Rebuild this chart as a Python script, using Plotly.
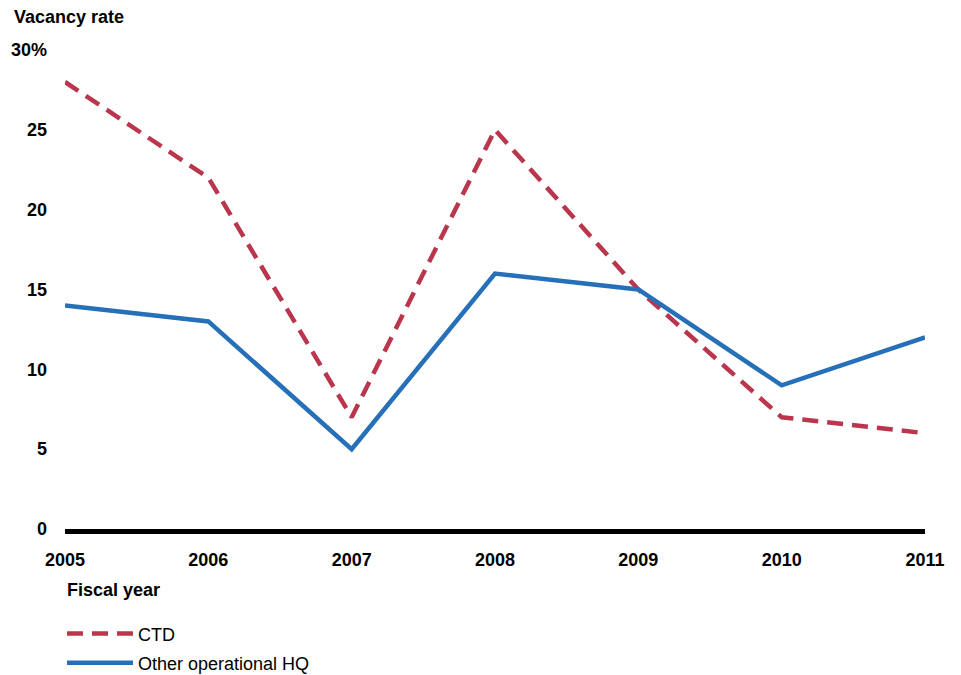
import plotly.graph_objects as go

years = [2005, 2006, 2007, 2008, 2009, 2010, 2011]
ctd = [28, 22, 7, 25, 15, 7, 6]
other_hq = [14, 13, 5, 16, 15, 9, 12]
y_ticks = [0, 5, 10, 15, 20, 25, 30]
y_ticktext = ["0", "5", "10", "15", "20", "25", "30%"]

font = "Liberation Sans, Arial, sans-serif"

fig = go.Figure()
fig.add_trace(go.Scatter(x=years, y=ctd, mode="lines", name="CTD",
                         line=dict(color="#b9364c", width=4.5, dash="16px,9px"),
                         cliponaxis=False, legend="legend"))
fig.add_trace(go.Scatter(x=years, y=other_hq, mode="lines", name="Other operational HQ",
                         line=dict(color="#2570b8", width=4.5),
                         cliponaxis=False, legend="legend2"))

# the page puts the figure 8px in from the top-left corner
leg = dict(x=-0.0035, xanchor="left", yanchor="middle", font=dict(size=18),
           bgcolor="rgba(0,0,0,0)", itemwidth=66)
fig.update_layout(
    width=953, height=667,
    margin=dict(l=57, r=36, t=42, b=146, autoexpand=False),
    plot_bgcolor="white", paper_bgcolor="white",
    font=dict(family=font, size=18, color="black"),
    xaxis=dict(range=[2005, 2011], tickvals=years, showgrid=False, zeroline=False,
               showline=True, linecolor="black", linewidth=5,
               tickfont=dict(size=18, weight="bold"), ticks="", ticklabelstandoff=10),
    yaxis=dict(range=[0, 30], tickvals=y_ticks, ticktext=y_ticktext, showgrid=False,
               zeroline=False, showline=False, ticks="",
               tickfont=dict(size=18, weight="bold"), ticklabelstandoff=17),
    legend=dict(leg, y=-0.219),
    legend2=dict(leg, y=-0.2797),
    showlegend=True,
    annotations=[
        dict(text="<b>Vacancy rate</b>", xref="paper", yref="paper", x=-0.0616, y=1.069,
             xanchor="left", yanchor="middle", showarrow=False, font=dict(size=18)),
        dict(text="<b>Fiscal year</b>", xref="paper", yref="paper", x=0, y=-0.127,
             xanchor="left", yanchor="middle", showarrow=False, font=dict(size=18)),
    ],
)

fig.write_html("out.html")
